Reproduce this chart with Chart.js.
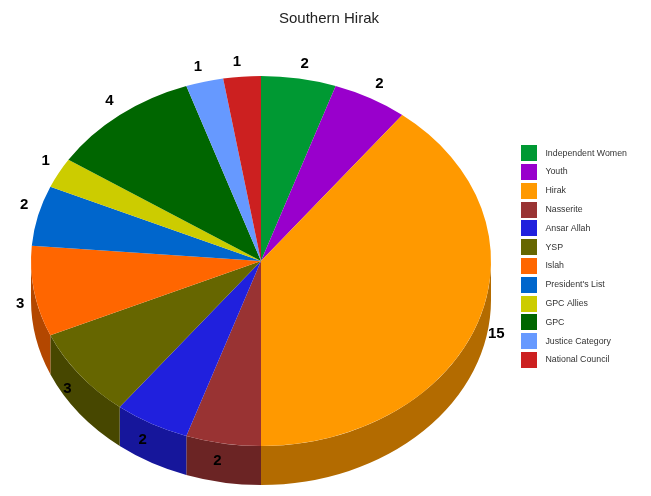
<!DOCTYPE html>
<html>
<head>
<meta charset="utf-8">
<title>Southern Hirak</title>
<script src="https://cdn.jsdelivr.net/npm/chart.js@4"></script>
<style>
  html, body { margin: 0; padding: 0; background: #fff; }
  #wrap { width: 651px; height: 496px; }
</style>
</head>
<body>
<div id="wrap"><canvas id="chart"></canvas></div>
<script>
// Data
const categories = ["Independent Women", "Youth", "Hirak", "Nasserite", "Ansar Allah", "YSP",
  "Islah", "President's List", "GPC Allies", "GPC", "Justice Category", "National Council"];
const seats = [2, 2, 15, 2, 2, 3, 3, 2, 1, 4, 1, 1];
const colors = ["#009933", "#9900CC", "#FF9900", "#993333", "#2020DD", "#666600",
  "#FF6600", "#0066CC", "#CCCC00", "#006600", "#6699FF", "#CC2020"];
const sideColors = ["#006B24", "#6B008F", "#B36B00", "#6B2424", "#16169B", "#474700",
  "#B34700", "#00478F", "#8F8F00", "#004700", "#476BB3", "#8F1616"];

// The pie is drawn as a circle and squashed to look tilted
const TILT = 185 / 230;
const DEPTH = 39;
const PIE_RIGHT = 511;
const LEGEND_SHIFT_Y = 11;

// Legend swatch with some blank room on its right, to space it from the text
function makeSwatch(color) {
  const swatch = document.createElement("canvas");
  swatch.width = 20;
  swatch.height = 16;
  const ctx = swatch.getContext("2d");
  ctx.fillStyle = color;
  ctx.fillRect(0, 0, 16, 16);
  return swatch;
}

const swatches = colors.map(makeSwatch);

const tiltedPie = {
  id: "tiltedPie",
  afterLayout(chart) {
    // Legend gets more room than it asks for
    chart.chartArea.right = PIE_RIGHT;
    chart.legend.left = PIE_RIGHT;
    chart.legend.top += LEGEND_SHIFT_Y;
    chart.legend.bottom += LEGEND_SHIFT_Y;
  },
  beforeDatasetsDraw(chart) {
    const ctx = chart.ctx;
    const arcs = chart.getDatasetMeta(0).data;

    // Side wall, only the front half can be seen
    arcs.forEach((arc, i) => {
      const start = Math.max(arc.startAngle, 0);
      const end = Math.min(arc.endAngle, Math.PI);
      if (start >= end) return;
      const rx = arc.outerRadius;
      const ry = rx * TILT;
      ctx.beginPath();
      ctx.ellipse(arc.x, arc.y, rx, ry, 0, start, end);
      ctx.ellipse(arc.x, arc.y + DEPTH, rx, ry, 0, end, start, true);
      ctx.closePath();
      ctx.fillStyle = sideColors[i];
      ctx.fill();
    });

    const { x, y } = arcs[0];
    ctx.save();
    ctx.translate(x, y);
    ctx.scale(1, TILT);
    ctx.translate(-x, -y);
  },
  afterDatasetsDraw(chart) {
    const ctx = chart.ctx;
    ctx.restore();

    // Value labels around the rim, wider labels sit further out
    ctx.save();
    ctx.font = "bold 15px 'Liberation Sans', Arial, sans-serif";
    ctx.fillStyle = "#000";
    ctx.textAlign = "center";
    ctx.textBaseline = "middle";
    chart.getDatasetMeta(0).data.forEach((arc, i) => {
      const mid = (arc.startAngle + arc.endAngle) / 2;
      const cos = Math.cos(mid);
      const sin = Math.sin(mid);
      const rx = arc.outerRadius;
      const halfWidth = ctx.measureText(seats[i]).width / 2;
      const lx = arc.x + cos * rx + Math.sign(cos) * (halfWidth + 10 * Math.abs(cos));
      const ly = arc.y + sin * rx * TILT + Math.sign(sin) * (10 + 6 * Math.abs(sin)) + 1;
      ctx.fillText(seats[i], lx, ly);
    });
    ctx.restore();
  },
};

new Chart(document.getElementById("chart"), {
  type: "pie",
  data: {
    labels: categories,
    datasets: [{ data: seats, backgroundColor: colors, borderWidth: 0 }],
  },
  plugins: [tiltedPie],
  options: {
    responsive: true,
    maintainAspectRatio: false,
    animation: false,
    layout: { padding: { left: 11, right: 4, top: 0, bottom: 5 } },
    plugins: {
      title: {
        display: true,
        text: "Southern Hirak",
        color: "#222",
        font: { family: "'Liberation Sans', Arial, sans-serif", size: 15, weight: "normal" },
        padding: { top: 10, bottom: 3 },
      },
      legend: {
        position: "right",
        labels: {
          usePointStyle: true,
          pointStyleWidth: 20,
          padding: 10,
          color: "#333",
          font: { family: "'Liberation Sans', Arial, sans-serif", size: 8.8 },
          generateLabels(chart) {
            const items = Chart.overrides.pie.plugins.legend.labels.generateLabels(chart);
            return items.map((item, i) => ({ ...item, pointStyle: swatches[i] }));
          },
        },
      },
      tooltip: { enabled: false },
    },
  },
});
</script>
</body>
</html>
